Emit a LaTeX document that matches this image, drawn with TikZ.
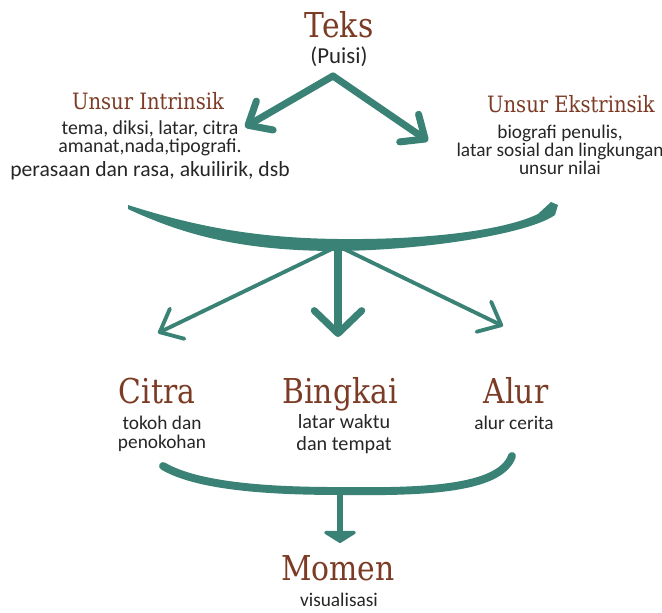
\documentclass[tikz,border=0pt]{standalone}
\usepackage{fontspec}
\setmainfont{Carlito}
\newfontfamily\slabfont[FakeStretch=0.87]{DejaVu Serif}
\usetikzlibrary{arrows.meta}
\definecolor{bata}{HTML}{7B3B24}
\definecolor{hijau}{HTML}{3A8275}
\definecolor{tinta}{HTML}{262626}
\tikzset{
  judul/.style={text=bata,inner sep=0pt,anchor=base,font=\slabfont\fontsize{19.5}{22}\selectfont},
  subjudul/.style={text=bata,inner sep=0pt,anchor=base,font=\slabfont\fontsize{12.8}{14}\selectfont},
  isi/.style={text=tinta,inner sep=0pt,anchor=base,align=center,font=\fontsize{11}{10}\selectfont},
  kuas/.style={draw=hijau,line width=4pt,line cap=round,line join=round},
  panah/.style={-{Straight Barb[length=11pt,width=19pt,round]}}
}
\begin{document}
\begin{tikzpicture}[x=0.02cm,y=-0.02cm]
\useasboundingbox (0,0) rectangle (662,612);

% puncak
\node[judul] (teks) at (339,37) {Teks};
\node[isi,font=\fontsize{13}{13}\selectfont] (puisi) at (339,63) {(Puisi)};

% unsur (base = garis dasar baris terakhir)
\node[subjudul] (intrinsik) at (148,109) {Unsur Intrinsik};
\node[isi,font=\fontsize{11.3}{10.2}\selectfont] (isiintrinsik) at (150,176) {tema, diksi, latar, citra\\amanat,nada,tipografi.\\[2pt]{\fontsize{12.3}{12}\selectfont perasaan dan rasa, akuilirik, dsb}};
\node[subjudul] (ekstrinsik) at (571,112) {Unsur Ekstrinsik};
\node[isi] (isiekstrinsik) at (560,174) {biografi penulis,\\latar sosial dan lingkungan\\unsur nilai};

% tengah
\node[judul] (citra) at (157,403) {Citra};
\node[isi,font=\fontsize{11}{10.4}\selectfont] (isicitra) at (162,448) {tokoh dan\\penokohan};
\node[judul] (bingkai) at (340,403) {Bingkai};
\node[isi,font=\fontsize{11.5}{12.5}\selectfont] (isibingkai) at (344,450) {latar waktu\\dan tempat};
\node[judul] (alur) at (516,403) {Alur};
\node[isi] (isialur) at (514,429) {alur cerita};

% bawah
\node[judul] (momen) at (338,580) {Momen};
\node[isi] (visual) at (339,606) {visualisasi};

% panah dari teks
\coordinate (puncak) at (333,76);
\coordinate (kiri) at (245,127);
\coordinate (kanan) at (428,141);
\draw[kuas,panah] (puncak) -- (kiri);
\draw[kuas,panah] (puncak) -- (kanan);

% kurung besar
\coordinate (tengah) at (338,246);
\fill[hijau] (128,205) .. controls (200,228) and (260,238) .. (338,239) .. controls (430,240) and (505,230) .. (538,214) -- (551,202) -- (558,205) -- (555,215) .. controls (530,233) and (430,250) .. (338,251) .. controls (250,251) and (190,238) .. (128,209) -- cycle;
\coordinate (citrapanah) at (158,333);
\coordinate (bingkaipanah) at (338,337);
\coordinate (alurpanah) at (503,326);
\draw[kuas,line width=2.2pt,panah] (tengah) -- (citrapanah);
\draw[kuas,-{Straight Barb[length=13pt,width=27pt,round]}] (tengah) -- (bingkaipanah);
\draw[kuas,line width=2.2pt,panah] (tengah) -- (alurpanah);

% kurung bawah
\coordinate (bawah) at (340,491);
\coordinate (momenpanah) at (340,543);
\draw[kuas,line width=4.5pt] (163,466) .. controls (200,488) and (280,491) .. (bawah) .. controls (420,492) and (500,490) .. (512,456);
\draw[kuas,line width=3.5pt,-{Triangle[length=7pt,width=22pt,round]}] (bawah) -- (momenpanah);

\end{tikzpicture}
\end{document}
